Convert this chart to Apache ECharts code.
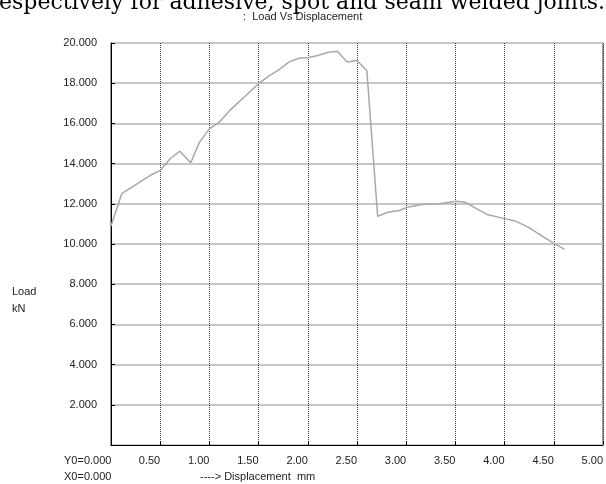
<!DOCTYPE html>
<html>
<head>
<meta charset="utf-8">
<script src="https://cdn.jsdelivr.net/npm/echarts@6/dist/echarts.min.js"></script>
<style>
html,body{margin:0;padding:0;background:#fff;}
#c{width:606px;height:484px;}
</style>
</head>
<body>
<div id="c"></div>
<script>
const displacement = [0, 0.11, 0.40, 0.50, 0.60, 0.70, 0.81, 0.90, 1.00, 1.10, 1.20, 1.51, 1.61, 1.71, 1.81, 1.91, 2.01, 2.10, 2.21, 2.30, 2.40, 2.50, 2.60, 2.71, 2.81, 2.93, 3.01, 3.16, 3.33, 3.51, 3.60, 3.70, 3.82, 4.01, 4.11, 4.24, 4.41, 4.51, 4.61];
const load = [10.89, 12.51, 13.42, 13.66, 14.24, 14.62, 14.04, 15.07, 15.73, 16.06, 16.61, 18.02, 18.38, 18.68, 19.06, 19.24, 19.28, 19.38, 19.54, 19.59, 19.06, 19.13, 18.63, 11.38, 11.58, 11.67, 11.83, 11.97, 12.00, 12.13, 12.08, 11.80, 11.47, 11.25, 11.14, 10.84, 10.31, 10.01, 9.73];
const titleText = ':  Load Vs Displacement';
const captionText = 'espectively for adhesive, spot and seam welded joints.';
const yName = ['Load', 'kN'];
const origin = ['Y0=0.000', 'X0=0.000'];
const xName = '----> Displacement  mm';

const font = 'Liberation Sans, Arial, sans-serif';
const chart = echarts.init(document.getElementById('c'), null, {renderer: 'canvas'});
chart.setOption({
  animation: false,
  backgroundColor: '#fff',
  grid: {left: 111, top: 43, width: 494, height: 402, show: true, borderColor: '#333', borderWidth: 1, backgroundColor: 'transparent'},
  xAxis: {
    type: 'value', min: 0, max: 5, interval: 0.5,
    axisLine: {show: true, lineStyle: {color: '#000', width: 1}},
    axisTick: {show: true, inside: true, length: 4, lineStyle: {color: '#000'}},
    axisLabel: {color: '#222', fontFamily: font, fontSize: 11, margin: 10, align: 'right',
      formatter: v => v === 0 ? '' : v.toFixed(2)},
    splitLine: {show: true, lineStyle: {color: '#444', width: 1, type: [1, 1]}}
  },
  yAxis: {
    type: 'value', min: 0, max: 20, interval: 2,
    axisLine: {show: true, lineStyle: {color: '#000', width: 1}},
    axisTick: {show: true, inside: true, length: 4, lineStyle: {color: '#000'}},
    axisLabel: {color: '#222', fontFamily: font, fontSize: 11, margin: 14,
      formatter: v => v === 0 ? '' : v.toFixed(3)},
    splitLine: {show: true, lineStyle: {color: '#c6c6c6', width: 2}}
  },
  series: [{
    type: 'line',
    data: displacement.map((x, i) => [x, load[i]]),
    showSymbol: false,
    lineStyle: {color: '#a8a8a8', width: 1.5},
    z: 5
  }],
  graphic: [
    {type: 'text', x: -1, y: 3, style: {text: captionText, font: '22px "DejaVu Serif", serif', fill: '#000', textVerticalAlign: 'middle'}},
    {type: 'text', x: 243, y: 17, style: {text: titleText, font: '11px ' + font, fill: '#222', textVerticalAlign: 'middle'}},
    {type: 'text', x: 12, y: 292, style: {text: yName[0], font: '11px ' + font, fill: '#222', textVerticalAlign: 'middle'}},
    {type: 'text', x: 12, y: 309, style: {text: yName[1], font: '11px ' + font, fill: '#222', textVerticalAlign: 'middle'}},
    {type: 'text', x: 64, y: 461, style: {text: origin[0], font: '11px ' + font, fill: '#222', textVerticalAlign: 'middle'}},
    {type: 'text', x: 64, y: 477, style: {text: origin[1], font: '11px ' + font, fill: '#222', textVerticalAlign: 'middle'}},
    {type: 'text', x: 200, y: 477, style: {text: xName, font: '11px ' + font, fill: '#222', textVerticalAlign: 'middle'}}
  ]
});
</script>
</body>
</html>
